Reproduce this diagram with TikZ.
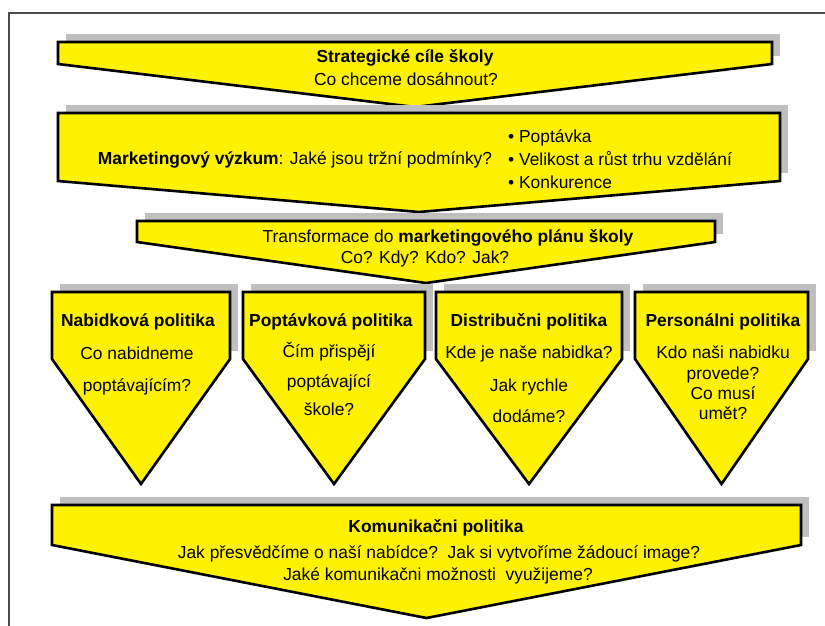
\documentclass[tikz,border=0pt]{standalone}
\usepackage{fontspec}
\setmainfont{Liberation Sans}
\usepackage{tikz}
\newcommand\outlineW{2.6pt}
\newcommand\shadowDx{8}
\newcommand\shadowDy{8}
\newcommand\fillColor{yellow}
\newcommand\shadowColor{black!25}
\newcommand{\bannerPath}[5]{
    (#1,#3) -- (#2,#3) -- (#2,#4) -- ({(#1 + #2) / 2},#5) -- (#1,#4) -- cycle
}
\newcommand{\shadowPath}[4]{
    ({#1 + \shadowDx},{#3 - \shadowDy}) rectangle ({#2 + \shadowDx},{#4 - \shadowDy})
}
\newcommand{\drawBanner}[5]{
    \fill[\shadowColor] \shadowPath{#1}{#2}{#3}{#4};
    \filldraw[fill=\fillColor, draw=black, line width=\outlineW] \bannerPath{#1}{#2}{#3}{#4}{#5};
}
\tikzset{
    txt/.style={font=\fontsize{17.4}{21}\selectfont, inner sep=0pt, anchor=base},
    txtL/.style={txt, anchor=base west}
}

\begin{document}
\begin{tikzpicture}[x=1pt, y=-1pt]
        \useasboundingbox (0,0) rectangle (825,626);
        \draw[black!70, line width=1.3pt] (9,626) -- (9,13) -- (825,13);

        % wide banners
        \drawBanner{58}{772}{42}{64}{107}
        \drawBanner{58}{780}{113}{181}{212}
        \drawBanner{137}{715}{221}{242}{283}

        \node[txt] (goalsHead) at (405,63) {\textbf{Strategické cíle školy}};
        \node[txt] (goalsAsk) at (406,85) {Co chceme dosáhnout?};

        \node[txt] (research) at (295,164) {\textbf{Marketingový výzkum}: Jaké jsou tržní podmínky?};
        \node[txtL] (demand) at (508,142) {• Poptávka};
        \node[txtL] (market) at (508,165) {• Velikost a růst trhu vzdělání};
        \node[txtL] (rivals) at (508,188) {• Konkurence};

        \node[txt] (planHead) at (448,242) {Transformace do \textbf{marketingového plánu školy}};
        \node[txt] (planAsk) at (425,263) {Co? Kdy? Kdo? Jak?};

        % four policies
        \drawBanner{52}{230}{292}{359}{484}
        \drawBanner{243}{425}{292}{359}{484}
        \drawBanner{436}{622}{292}{359}{484}
        \drawBanner{635}{808}{292}{359}{484}

        \node[txt] (offerHead) at (138,326) {\textbf{Nabidková politika}};
        \node[txt] (offerA) at (137,359) {Co nabidneme};
        \node[txt] (offerB) at (137,391) {poptávajícím?};

        \node[txt] (demandHead) at (331,326) {\textbf{Poptávková politika}};
        \node[txt] (demandA) at (329,357) {Čím přispějí};
        \node[txt] (demandB) at (329,387) {poptávající};
        \node[txt] (demandC) at (329,415) {škole?};

        \node[txt] (distHead) at (529,326) {\textbf{Distribučni politika}};
        \node[txt] (distA) at (529,358) {Kde je naše nabidka?};
        \node[txt] (distB) at (529,391) {Jak rychle};
        \node[txt] (distC) at (529,422) {dodáme?};

        \node[txt] (staffHead) at (723,326) {\textbf{Personálni politika}};
        \node[txt] (staffA) at (723,358) {Kdo naši nabidku};
        \node[txt] (staffB) at (723,379) {provede?};
        \node[txt] (staffC) at (723,399) {Co musí};
        \node[txt] (staffD) at (723,419) {umět?};

        % communication
        \drawBanner{52}{801}{505}{545}{618}

        \node[txt] (commHead) at (436,532) {\textbf{Komunikačni politika}};
        \node[txt] (commA) at (439,558) {Jak přesvědčíme o naší nabídce?\ \ Jak si vytvoříme žádoucí image?};
        \node[txt] (commB) at (438,580) {Jaké komunikačni možnosti\ \ využijeme?};
    \end{tikzpicture}
\end{document}
